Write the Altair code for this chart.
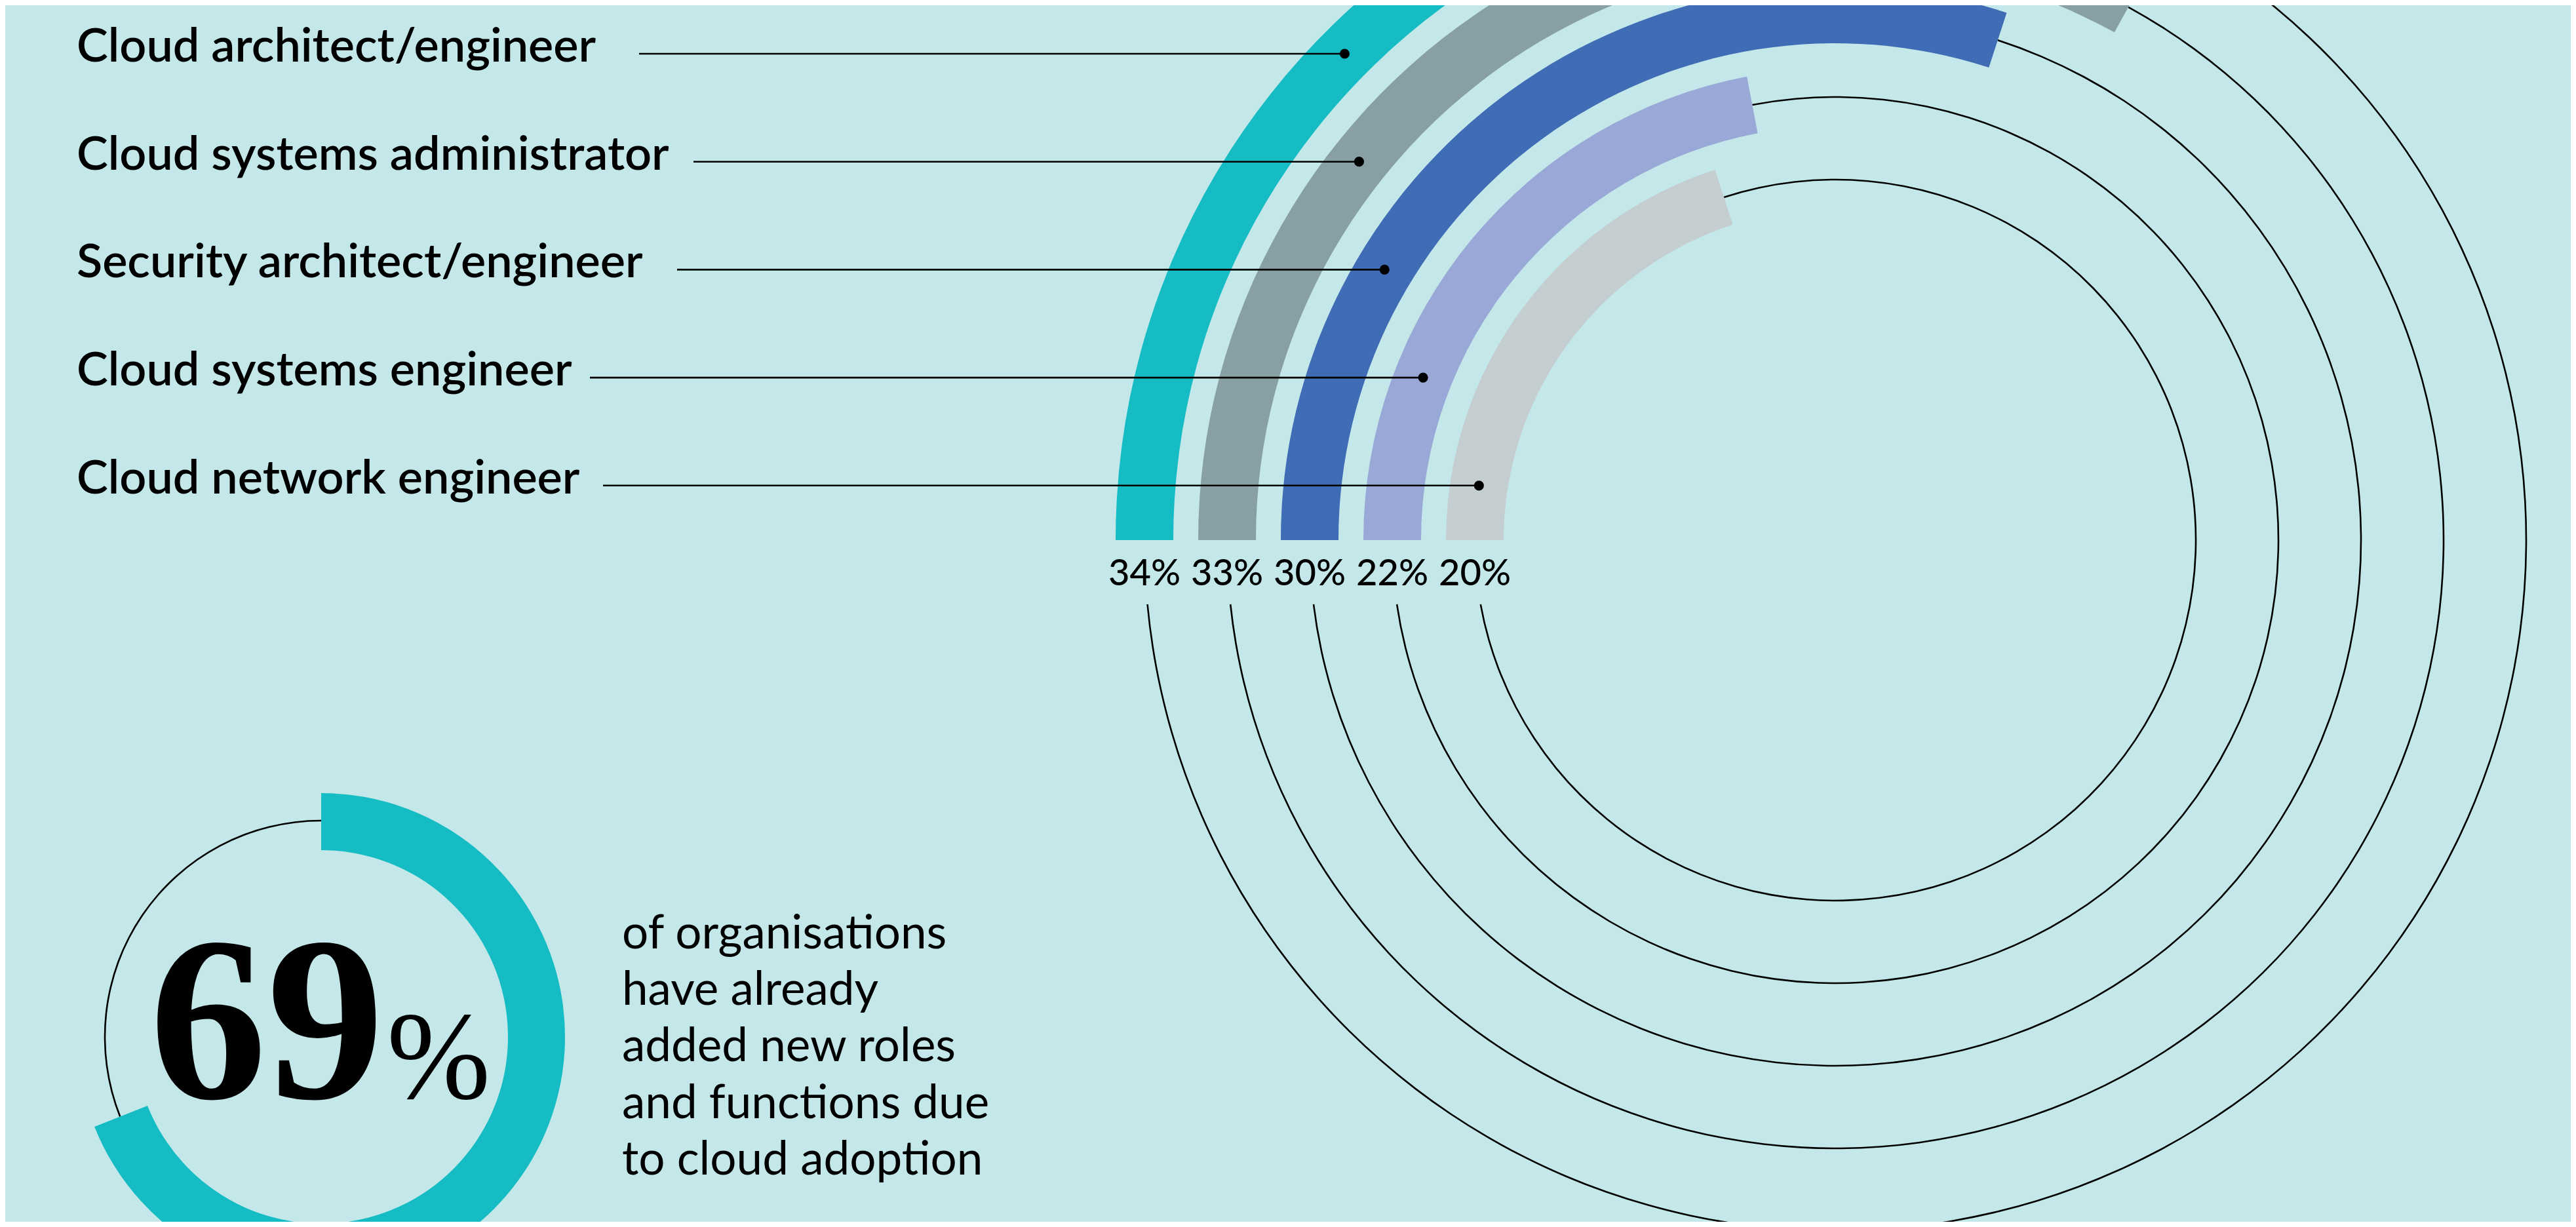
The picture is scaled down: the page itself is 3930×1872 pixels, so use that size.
import math
import altair as alt
import pandas as pd

# ---------------- data ----------------
roles = ["Cloud architect/engineer", "Cloud systems administrator",
         "Security architect/engineer", "Cloud systems engineer",
         "Cloud network engineer"]
shares = [34, 33, 30, 22, 20]
share_labels = ["34%", "33%", "30%", "22%", "20%"]
colors = ["#15bcc3", "#88a0a3", "#406bb5", "#99a8d6", "#c4cdd0"]

headline_value = 69
headline_lines = ["of organisations", "have already", "added new roles",
                  "and functions due", "to cloud adoption"]

# ---------------- layout (reference pixels) ----------------
BG = "#c4e8e9"
M = 8
W, H = 3930 - 2 * M, 1872 - 2 * M
CX, CY = 2800 - M, 824 - M
R_MID0, STEP, BAND, LW = 1054, 126, 88, 2.6
GAP_Y = 98
ring_r = [R_MID0 - i * STEP for i in range(len(shares))]
leader_y = [82 - M + i * 164.7 for i in range(len(roles))]
leader_x0 = [975 - M, 1058 - M, 1033 - M, 900 - M, 920 - M]
LABEL_X = 117 - M

big = pd.DataFrame({
    "role": roles, "share": shares, "label": share_labels, "color": colors,
    "start": 0, "r0": [r - BAND / 2 for r in ring_r],
    "r1": [r + BAND / 2 for r in ring_r],
    "t0": [r - LW / 2 for r in ring_r], "t1": [r + LW / 2 for r in ring_r],
    "track_end": [100 - math.asin(GAP_Y / r) / (2 * math.pi) * 100 for r in ring_r],
    "lx": [CX - r for r in ring_r],
    "ly": 893 - M,
})
lead = pd.DataFrame({
    "role": roles, "y": leader_y, "x0": leader_x0,
    "x1": [CX - math.sqrt(r ** 2 - (CY - y) ** 2) for r, y in zip(ring_r, leader_y)],
    "ty": [y + 12 for y in leader_y], "tx": LABEL_X,
})

theta_big = alt.Scale(domain=[0, 100], range=[-math.pi / 2, 3 * math.pi / 2])

bars = alt.Chart(big).mark_arc().encode(
    theta=alt.Theta("start:Q", scale=theta_big, stack=None),
    theta2="share:Q",
    radius=alt.Radius("r0:Q", scale=None), radius2="r1:Q",
    color=alt.Color("color:N", scale=None),
    x=alt.value(CX), y=alt.value(CY),
)
tracks = alt.Chart(big).mark_arc(color="black").encode(
    theta=alt.Theta("share:Q", scale=theta_big, stack=None),
    theta2="track_end:Q",
    radius=alt.Radius("t0:Q", scale=None), radius2="t1:Q",
    x=alt.value(CX), y=alt.value(CY),
)
pct = alt.Chart(big).mark_text(font="Lato", fontWeight=500, fontSize=56, color="black",
                               align="center", baseline="alphabetic").encode(
    x=alt.X("lx:Q", scale=None), y=alt.Y("ly:Q", scale=None), text="label:N")

rules = alt.Chart(lead).mark_rule(color="black", strokeWidth=2.6).encode(
    x=alt.X("x0:Q", scale=None), x2="x1:Q", y=alt.Y("y:Q", scale=None))
dots = alt.Chart(lead).mark_circle(color="black", opacity=1, size=230).encode(
    x=alt.X("x1:Q", scale=None), y=alt.Y("y:Q", scale=None))
names = alt.Chart(lead).mark_text(font="Lato", fontWeight=600, fontSize=72,
                                  color="black", align="left",
                                  baseline="alphabetic").encode(
    x=alt.X("tx:Q", scale=None), y=alt.Y("ty:Q", scale=None), text="role:N")

# small donut
SX, SY = 490 - M, 1582 - M
small = pd.DataFrame({"a": [0], "b": [headline_value], "c": [100]})
theta_small = alt.Scale(domain=[0, 100], range=[0, 2 * math.pi])
s_bar = alt.Chart(small).mark_arc(color="#15bcc3").encode(
    theta=alt.Theta("a:Q", scale=theta_small, stack=None), theta2="b:Q",
    radius=alt.value(285), radius2=alt.value(372),
    x=alt.value(SX), y=alt.value(SY))
s_track = alt.Chart(small).mark_arc(color="black").encode(
    theta=alt.Theta("b:Q", scale=theta_small, stack=None), theta2="c:Q",
    radius=alt.value(330 - LW / 2), radius2=alt.value(330 + LW / 2),
    x=alt.value(SX), y=alt.value(SY))

num = pd.DataFrame({"t": [str(headline_value)], "p": ["%"]})
s_num = alt.Chart(num).mark_text(font="Liberation Serif", fontWeight="bold",
                                 fontSize=358, align="right", baseline="alphabetic",
                                 color="black").encode(
    x=alt.value(586 - M), y=alt.value(1675 - M), text="t:N")
s_pct = alt.Chart(num).mark_text(font="Liberation Serif", fontSize=190,
                                 align="left", baseline="alphabetic",
                                 color="black").encode(
    x=alt.value(590 - M), y=alt.value(1675 - M), text="p:N")

hl = pd.DataFrame({"line": headline_lines,
                   "y": [1447 - M + i * 86.2 for i in range(len(headline_lines))]})
s_text = alt.Chart(hl).mark_text(font="Lato", fontSize=71, align="left",
                                 baseline="alphabetic", color="black").encode(
    x=alt.value(949 - M), y=alt.Y("y:Q", scale=None), text="line:N")

chart = alt.layer(tracks, bars, pct, rules, dots, names,
                  s_track, s_bar, s_num, s_pct, s_text).resolve_scale(
    theta="independent"
).properties(
    width=W, height=H, background=BG, padding=0,
    autosize=alt.AutoSizeParams(type="none"),
).configure_view(stroke=None)

chart.save("out.html", embed_options={"renderer": "svg", "actions": False})
